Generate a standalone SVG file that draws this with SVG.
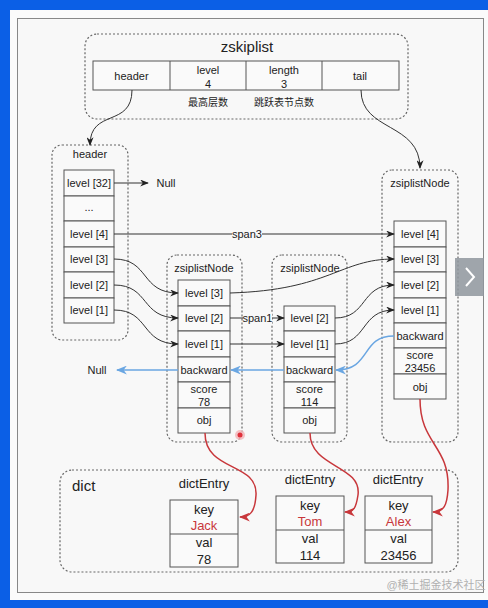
<svg xmlns="http://www.w3.org/2000/svg" width="488" height="608" viewBox="0 0 488 608">
<defs>
<marker id="ab" viewBox="0 0 10 8" refX="9" refY="4" markerWidth="9" markerHeight="7" orient="auto" markerUnits="userSpaceOnUse"><path d="M0,0 L10,4 L0,8 L3,4 z" fill="#222"/></marker>
<marker id="abl" viewBox="0 0 10 8" refX="9" refY="4" markerWidth="11" markerHeight="9" orient="auto" markerUnits="userSpaceOnUse"><path d="M0,0 L10,4 L0,8 L3,4 z" fill="#6aa6e2"/></marker>
<marker id="ar" viewBox="0 0 10 8" refX="9" refY="4" markerWidth="11" markerHeight="9" orient="auto" markerUnits="userSpaceOnUse"><path d="M0,0 L10,4 L0,8 L3,4 z" fill="#c8373b"/></marker>
</defs>
<style>
text{font-family:"Liberation Sans",Arial,"Noto Sans CJK SC",sans-serif;fill:#222;text-anchor:middle;dominant-baseline:central}
.t{font-size:11px}
.s{font-size:10px}
.m{font-size:13px}
.red{fill:#c8373b}
.c{fill:#fafafa;stroke:#555;stroke-width:1}
.d{fill:none;stroke:#666;stroke-width:1.2;stroke-dasharray:2,2}
.k{fill:none;stroke:#333;stroke-width:1;marker-end:url(#ab)}
.b{fill:none;stroke:#6aa6e2;stroke-width:1.5;marker-end:url(#abl)}
.r{fill:none;stroke:#c8373b;stroke-width:1.5;marker-end:url(#ar)}
</style>
<rect x="0" y="0" width="488" height="608" fill="#0b5fe6"/>
<rect x="10" y="10" width="478" height="590" fill="#fbfbfb"/>
<rect x="17.5" y="18.5" width="466" height="574" fill="#f8f8f8" stroke="#888" stroke-width="1"/>

<g id="zskiplist">
<rect class="d" x="85" y="34" width="323" height="85" rx="12"/>
<text x="247" y="46" style="font-size:15px">zskiplist</text>
<rect class="c" x="93" y="61" width="306" height="29"/>
<line x1="170" y1="61" x2="170" y2="90" stroke="#555"/>
<line x1="246" y1="61" x2="246" y2="90" stroke="#555"/>
<line x1="322" y1="61" x2="322" y2="90" stroke="#555"/>
<text class="t" x="131.5" y="76">header</text>
<text class="t" x="208" y="70">level</text>
<text class="t" x="208" y="84">4</text>
<text class="t" x="284" y="70">length</text>
<text class="t" x="284" y="84">3</text>
<text class="t" x="360" y="76">tail</text>
<text class="s" x="208" y="102">最高层数</text>
<text class="s" x="284" y="102">跳跃表节点数</text>
</g>

<g id="header">
<rect class="d" x="52" y="145" width="76" height="195" rx="10"/>
<text class="t" x="90" y="154">header</text>
<rect class="c" x="64" y="170" width="50" height="26"/>
<rect class="c" x="64" y="196" width="50" height="25"/>
<rect class="c" x="64" y="221" width="50" height="26"/>
<rect class="c" x="64" y="247" width="50" height="25"/>
<rect class="c" x="64" y="272" width="50" height="26"/>
<rect class="c" x="64" y="298" width="50" height="25"/>
<text class="t" x="89" y="183">level [32]</text>
<text class="t" x="89" y="207">...</text>
<text class="t" x="89" y="234">level [4]</text>
<text class="t" x="89" y="259">level [3]</text>
<text class="t" x="89" y="285">level [2]</text>
<text class="t" x="89" y="310">level [1]</text>
</g>

<g id="node1">
<rect class="d" x="167" y="255" width="75" height="187" rx="10"/>
<text class="t" x="204" y="268">zsiplistNode</text>
<rect class="c" x="178" y="280" width="52" height="26"/>
<rect class="c" x="178" y="306" width="52" height="25"/>
<rect class="c" x="178" y="331" width="52" height="26"/>
<rect class="c" x="178" y="357" width="52" height="25"/>
<rect class="c" x="178" y="382" width="52" height="26"/>
<rect class="c" x="178" y="408" width="52" height="25"/>
<text class="t" x="204" y="293">level [3]</text>
<text class="t" x="204" y="318">level [2]</text>
<text class="t" x="204" y="344">level [1]</text>
<text class="t" x="204" y="370">backward</text>
<text class="t" x="204" y="389">score</text>
<text class="t" x="204" y="402">78</text>
<text class="t" x="204" y="420">obj</text>
</g>

<g id="node2">
<rect class="d" x="272" y="255" width="75" height="187" rx="10"/>
<text class="t" x="310" y="268">zsiplistNode</text>
<rect class="c" x="284" y="306" width="51" height="25"/>
<rect class="c" x="284" y="331" width="51" height="26"/>
<rect class="c" x="284" y="357" width="51" height="25"/>
<rect class="c" x="284" y="382" width="51" height="26"/>
<rect class="c" x="284" y="408" width="51" height="25"/>
<text class="t" x="309.5" y="318">level [2]</text>
<text class="t" x="309.5" y="344">level [1]</text>
<text class="t" x="309.5" y="370">backward</text>
<text class="t" x="309.5" y="389">score</text>
<text class="t" x="309.5" y="402">114</text>
<text class="t" x="309.5" y="420">obj</text>
</g>

<g id="node3">
<rect class="d" x="382" y="170" width="76" height="272" rx="10"/>
<text class="t" x="420" y="183">zsiplistNode</text>
<rect class="c" x="394" y="221" width="52" height="26"/>
<rect class="c" x="394" y="247" width="52" height="25"/>
<rect class="c" x="394" y="272" width="52" height="26"/>
<rect class="c" x="394" y="298" width="52" height="25"/>
<rect class="c" x="394" y="323" width="52" height="25"/>
<rect class="c" x="394" y="348" width="52" height="26"/>
<rect class="c" x="394" y="374" width="52" height="25"/>
<text class="t" x="420" y="234">level [4]</text>
<text class="t" x="420" y="259">level [3]</text>
<text class="t" x="420" y="285">level [2]</text>
<text class="t" x="420" y="310">level [1]</text>
<text class="t" x="420" y="336">backward</text>
<text class="t" x="420" y="355">score</text>
<text class="t" x="420" y="368">23456</text>
<text class="t" x="420" y="387">obj</text>
</g>

<g id="dict">
<rect class="d" x="60" y="470" width="398" height="102" rx="12"/>
<text x="72" y="485" style="font-size:15px;text-anchor:start">dict</text>
</g>

<g id="entry1">
<text class="m" x="204" y="483">dictEntry</text>
<rect class="c" x="170" y="500" width="68" height="67"/>
<line x1="170" y1="534" x2="238" y2="534" stroke="#555"/>
<text class="m" x="204" y="509">key</text>
<text class="m red" x="204" y="525">Jack</text>
<text class="m" x="204" y="542">val</text>
<text class="m" x="204" y="559">78</text>
</g>
<g id="entry2">
<text class="m" x="310" y="479">dictEntry</text>
<rect class="c" x="276" y="496" width="68" height="67"/>
<line x1="276" y1="530" x2="344" y2="530" stroke="#555"/>
<text class="m" x="310" y="505">key</text>
<text class="m red" x="310" y="521">Tom</text>
<text class="m" x="310" y="538">val</text>
<text class="m" x="310" y="555">114</text>
</g>
<g id="entry3">
<text class="m" x="398" y="479">dictEntry</text>
<rect class="c" x="365" y="496" width="67" height="67"/>
<line x1="365" y1="530" x2="432" y2="530" stroke="#555"/>
<text class="m" x="398.5" y="505">key</text>
<text class="m red" x="398.5" y="521">Alex</text>
<text class="m" x="398.5" y="538">val</text>
<text class="m" x="398.5" y="555">23456</text>
</g>

<g id="connectors">
<path class="k" d="M132,90 C132,128 90,108 90,145"/>
<path class="k" d="M361,90 C361,132 420,122 420,168"/>
<path class="k" d="M114,183 L148,183"/>
<text class="t" x="166" y="183">Null</text>
<path class="k" d="M114,234 L394,234"/>
<rect x="232" y="228" width="30" height="12" fill="#f8f8f8"/>
<text class="t" x="247" y="234">span3</text>
<path class="k" d="M114,259 C150,259 140,293 178,293"/>
<path class="k" d="M114,285 C150,285 140,318 178,318"/>
<path class="k" d="M114,310 C150,310 140,344 178,344"/>
<path class="k" d="M230,293 C330,290 340,259 394,259"/>
<path class="k" d="M230,318 L284,318"/>
<rect x="243" y="312" width="29" height="12" fill="#f8f8f8"/>
<text class="t" x="257.5" y="318">span1</text>
<path class="k" d="M230,344 L284,344"/>
<path class="k" d="M335,318 C368,318 360,285 394,285"/>
<path class="k" d="M335,344 C368,344 360,310 394,310"/>
<path class="b" d="M394,336 C360,336 372,370 336,370"/>
<path class="b" d="M284,370 L231,370"/>
<path class="b" d="M178,370 L117,370"/>
<text class="t" x="97" y="370">Null</text>
<path class="r" d="M205,433 C205,472 258,462 256,495 C255,512 250,517 240,517"/>
<path class="r" d="M310,433 C310,468 362,465 358,495 C356,508 354,512 345,512"/>
<path class="r" d="M420,399 C420,445 450,445 448,490 C447,505 444,512 433,512"/>
</g>

<g id="overlay">
<circle cx="240" cy="435" r="5" fill="#f3b3b6" opacity="0.8"/>
<circle cx="240" cy="435" r="2.5" fill="#e0303a"/>
<rect x="455" y="258" width="29" height="38" fill="#8f969d" opacity="0.85"/>
<path d="M466,268 L474,277 L466,286" fill="none" stroke="#fff" stroke-width="2"/>
<text x="436" y="585" style="font-size:11px;fill:#b0b0b0">@稀土掘金技术社区</text>
</g>
</svg>
